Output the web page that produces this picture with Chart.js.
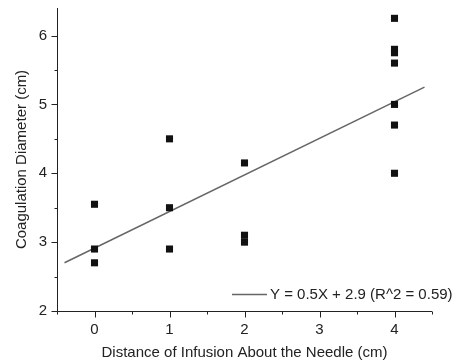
<!DOCTYPE html>
<html>
<head>
<meta charset="utf-8">
<script src="https://cdn.jsdelivr.net/npm/chart.js@4"></script>
<style>
html,body{margin:0;padding:0;background:#fff;}
canvas{display:block;}
</style>
</head>
<body>
<canvas id="c" width="464" height="363"></canvas>
<script>
// Data
const xValues = [0, 0, 0, 1, 1, 1, 2, 2, 2, 4, 4, 4, 4, 4, 4, 4];
const yValues = [3.55, 2.9, 2.7, 4.5, 3.5, 2.9, 4.15, 3.1, 3.0, 6.25, 5.8, 5.75, 5.6, 5.0, 4.7, 4.0];
const fitX = [-0.4, 4.4];
const fitY = [2.7, 5.25];
const xTickLabels = [0, 1, 2, 3, 4];
const yTickLabels = [2, 3, 4, 5, 6];
const fitLabel = 'Y = 0.5X + 2.9 (R^2 = 0.59)';
const xTitle = 'Distance of Infusion About the Needle (cm)';
const yTitle = 'Coagulation Diameter (cm)';

const FONT = '"Liberation Sans", Arial, sans-serif';
const TEXT = '#222';
const FS = 15;

const axesPlugin = {
  id: 'axesPlugin',
  afterDraw(chart) {
    const {ctx, chartArea: a, scales: {x, y}} = chart;
    ctx.save();
    ctx.strokeStyle = '#222';
    ctx.lineWidth = 1;
    ctx.beginPath();
    const lx = Math.round(a.left) + 0.5;
    const by = Math.round(a.bottom) + 0.5;
    ctx.moveTo(lx, a.top);
    ctx.lineTo(lx, by);
    ctx.lineTo(a.right, by);
    for (let v = x.min; v <= x.max + 1e-9; v += 0.5) {
      const px = Math.round(x.getPixelForValue(v)) + 0.5;
      const len = Math.abs(v - Math.round(v)) < 1e-9 ? 6 : 3;
      ctx.moveTo(px, by);
      ctx.lineTo(px, by + len);
    }
    for (let v = y.min; v <= y.max + 1e-9; v += 0.5) {
      const py = Math.round(y.getPixelForValue(v)) + 0.5;
      const len = Math.abs(v - Math.round(v)) < 1e-9 ? 6 : 3;
      ctx.moveTo(lx, py);
      ctx.lineTo(lx - len, py);
    }
    ctx.stroke();

    // legend
    const ly = Math.round(a.bottom - 17) + 0.5;
    const sx = a.right - 200;
    ctx.strokeStyle = '#666';
    ctx.lineWidth = 1.3;
    ctx.beginPath();
    ctx.moveTo(sx, ly);
    ctx.lineTo(sx + 35, ly);
    ctx.stroke();
    ctx.fillStyle = TEXT;
    ctx.font = FS + 'px ' + FONT;
    ctx.textBaseline = 'middle';
    ctx.textAlign = 'left';
    ctx.fillText(fitLabel, sx + 38, ly);
    ctx.restore();
  }
};

new Chart(document.getElementById('c'), {
  type: 'scatter',
  data: {
    datasets: [
      {
        label: 'data',
        data: xValues.map((v, i) => ({x: v, y: yValues[i]})),
        pointStyle: 'rect',
        pointRadius: 5,
        pointHoverRadius: 5,
        backgroundColor: '#111',
        borderColor: '#111',
        borderWidth: 0
      },
      {
        type: 'line',
        label: fitLabel,
        data: fitX.map((v, i) => ({x: v, y: fitY[i]})),
        borderColor: '#666',
        borderWidth: 1.5,
        pointRadius: 0,
        fill: false
      }
    ]
  },
  options: {
    responsive: false,
    animation: false,
    layout: {padding: {top: 8, right: 32, left: 0, bottom: 0}},
    plugins: {legend: {display: false}, tooltip: {enabled: false}},
    scales: {
      x: {
        type: 'linear',
        min: -0.5,
        max: 4.5,
        afterBuildTicks: s => { s.ticks = xTickLabels.map(v => ({value: v})); },
        afterFit: s => { s.height = 52; s.paddingLeft = 0; s.paddingRight = 0; },
        grid: {display: false, drawTicks: false},
        border: {display: false},
        ticks: {color: TEXT, font: {family: FONT, size: FS}, padding: 10, maxRotation: 0},
        title: {display: true, text: xTitle, color: TEXT, font: {family: FONT, size: FS}, padding: {top: 0, bottom: 1}}
      },
      y: {
        type: 'linear',
        min: 2,
        max: 6.4,
        afterBuildTicks: s => { s.ticks = yTickLabels.map(v => ({value: v})); },
        afterFit: s => { s.width = 57; s.paddingTop = 0; s.paddingBottom = 0; },
        grid: {display: false, drawTicks: false},
        border: {display: false},
        ticks: {color: TEXT, font: {family: FONT, size: FS}, padding: 10},
        title: {display: true, text: yTitle, color: TEXT, font: {family: FONT, size: FS}, padding: {top: 13, bottom: 0}}
      }
    }
  },
  plugins: [axesPlugin]
});
</script>
</body>
</html>
